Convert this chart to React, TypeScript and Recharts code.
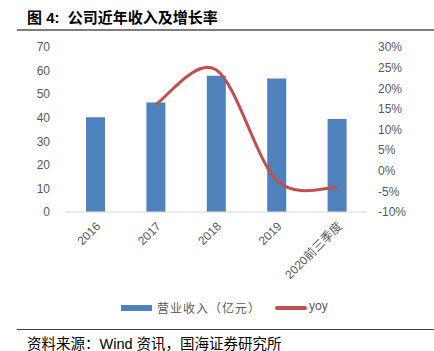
import { ComposedChart, Bar, Line, XAxis, YAxis } from 'recharts';

const years = ['2016', '2017', '2018', '2019', '2020前三季度'];
const revenue = [40.2, 46.5, 57.8, 56.6, 39.5];
const yoy = [null, 0.16, 0.245, -0.022, -0.041];

const data = years.map((year, i) => ({ year, revenue: revenue[i], yoy: yoy[i] }));

const FONT = '"Liberation Sans", "Noto Sans CJK SC", sans-serif';
const GREY = '#595959';

// Excel-style smoothed line (Catmull-Rom as cubic bezier)
const excelSmooth = (context: any) => {
    let pts: number[][] = [];
    return {
        areaStart() {},
        areaEnd() {},
        lineStart() { pts = []; },
        point(x: number, y: number) { pts.push([+x, +y]); },
        lineEnd() {
            if (!pts.length) return;
            context.moveTo(pts[0][0], pts[0][1]);
            for (let i = 0; i < pts.length - 1; i++) {
                const p0 = pts[i - 1] || pts[i];
                const p1 = pts[i];
                const p2 = pts[i + 1];
                const p3 = pts[i + 2] || p2;
                context.bezierCurveTo(
                    p1[0] + (p2[0] - p0[0]) / 6, p1[1] + (p2[1] - p0[1]) / 6,
                    p2[0] - (p3[0] - p1[0]) / 6, p2[1] - (p3[1] - p1[1]) / 6,
                    p2[0], p2[1]
                );
            }
        },
    };
};

const XTick = (props: any) => {
    const { x, y, payload } = props;
    return (
        <g transform={`translate(${x + 3},${y})`}>
            <text x={0} y={0} dy="0.35em" textAnchor="end" transform="rotate(-45)"
                fill={GREY} fontSize={12} fontFamily={FONT}>
                {payload.value}
            </text>
        </g>
    );
};

export default function App() {
    return (
        <div style={{ position: 'absolute', left: 0, top: 0, width: 434, height: 351, background: '#fff', fontFamily: FONT }}>
            <div style={{ position: 'absolute', left: 27, top: 6, fontSize: 15, fontWeight: 'bold', color: '#000', whiteSpace: 'pre' }}>
                {'图 4:  公司近年收入及增长率'}
            </div>
            <div style={{ position: 'absolute', left: 17, right: 0, top: 29, height: 2, background: '#7f7f7f' }} />

            <ComposedChart width={434} height={351} data={data}
                margin={{ top: 47, right: 0, bottom: 0, left: 0 }}
                style={{ position: 'absolute', left: 0, top: 0 }}>
                <XAxis dataKey="year" height={139} tickLine={false} tickSize={0} tickMargin={12}
                    stroke="#d9d9d9" tick={<XTick />} interval={0} />
                <YAxis yAxisId="left" width={65} domain={[0, 70]} ticks={[0, 10, 20, 30, 40, 50, 60, 70]}
                    axisLine={false} tickLine={false} tickSize={0} tickMargin={15}
                    tick={{ fill: GREY, fontSize: 12, fontFamily: FONT }} />
                <YAxis yAxisId="right" orientation="right" width={67} domain={[-0.1, 0.3]}
                    ticks={[-0.1, -0.05, 0, 0.05, 0.1, 0.15, 0.2, 0.25, 0.3]}
                    tickFormatter={(v: number) => `${Math.round(v * 100)}%`}
                    axisLine={false} tickLine={false} tickSize={0} tickMargin={11}
                    tick={{ fill: GREY, fontSize: 12, fontFamily: FONT, textAnchor: 'start' }} />
                <Bar yAxisId="left" dataKey="revenue" fill="#4f81bd" barSize={19} isAnimationActive={false} />
                <Line yAxisId="right" dataKey="yoy" type={excelSmooth as any} stroke="#c0504d" strokeWidth={3}
                    dot={false} connectNulls={false} isAnimationActive={false} />
            </ComposedChart>

            <div style={{ position: 'absolute', left: 121, top: 305, width: 31, height: 6, background: '#4f81bd' }} />
            <div style={{ position: 'absolute', left: 157, top: 299, fontSize: 12, letterSpacing: 1, color: GREY, whiteSpace: 'pre' }}>营业收入（亿元）</div>
            <div style={{ position: 'absolute', left: 275, top: 306, width: 32, height: 4, borderRadius: 2, background: '#c0504d' }} />
            <div style={{ position: 'absolute', left: 309, top: 299, fontSize: 12, color: GREY }}>yoy</div>

            <div style={{ position: 'absolute', left: 17, right: 0, top: 329, height: 1, background: '#404040' }} />
            <div style={{ position: 'absolute', left: 27, top: 332, fontSize: 14.5, color: '#000', whiteSpace: 'pre' }}>
                {'资料来源：Wind 资讯，国海证券研究所'}
            </div>
        </div>
    );
}
